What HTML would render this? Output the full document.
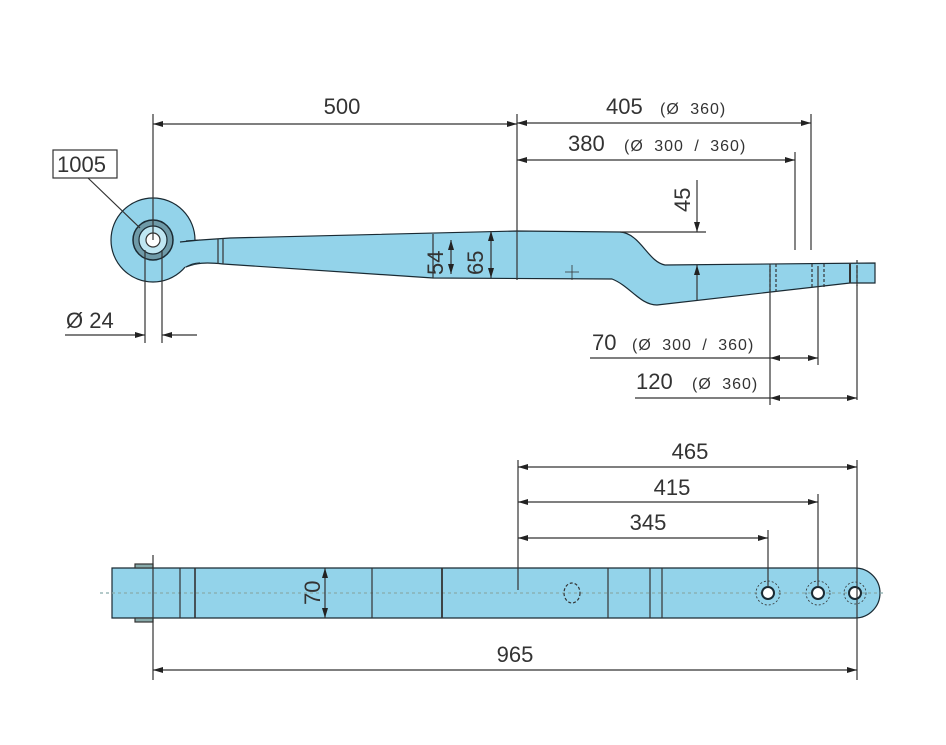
<!DOCTYPE html>
<html><head><meta charset="utf-8"><style>
html,body{margin:0;padding:0;background:#fff;}
svg{display:block;}
text{font-family:"Liberation Sans",Arial,sans-serif;fill:#333;}
.b{font-size:22px;}
.s{font-size:16px;letter-spacing:1px;word-spacing:5px;}
</style></head><body>
<svg width="946" height="745" viewBox="0 0 946 745" xmlns="http://www.w3.org/2000/svg">
<defs>
<marker id="a" viewBox="0 0 10 6" refX="10" refY="3" markerWidth="14" markerHeight="6" markerUnits="userSpaceOnUse" orient="auto-start-reverse"><path d="M0,0 L10,3 L0,6 z" fill="#222"/></marker>
</defs>
<g stroke="#333" stroke-width="1.2" fill="none">
<circle cx="153" cy="240" r="42" fill="#93d3ea" stroke="#1a2a33"/>
<path d="M186,241 L230,238 L517,231 L620,232 C640,233 648,262 665,265 L875,263 L875,283 L850,283 L657,305 C640,305 630,286 612,279 L433,278 L223,264 C205,262 196,263 186,267" fill="#93d3ea" stroke="#1a2a33"/>
<path d="M180,242 L200,240 L200,263 L180,268 Z" fill="#93d3ea" stroke="none"/>
<path d="M180,242 L200,240" stroke="#1a2a33"/>
<path d="M200,263 C194,263 190,265 186,267" stroke="#1a2a33"/>
<circle cx="153" cy="240" r="20" fill="#6f9aa8" stroke="#1a2a33" stroke-width="1.5"/>
<circle cx="153" cy="240" r="14" fill="#bfe6f2" stroke="#1a2a33"/>
<circle cx="153" cy="240" r="7" fill="#fff" stroke="#333"/>
<line x1="218" y1="239" x2="218" y2="264"/><line x1="223" y1="239" x2="223" y2="264"/>
<line x1="433" y1="234" x2="433" y2="278"/>
<line x1="770" y1="264" x2="770" y2="292" stroke-dasharray="3,2"/>
<line x1="776" y1="264" x2="776" y2="292" stroke-dasharray="3,2"/>
<line x1="812" y1="264" x2="812" y2="288" stroke-dasharray="3,2"/>
<line x1="824" y1="264" x2="824" y2="288" stroke-dasharray="3,2"/>
<line x1="850" y1="263" x2="850" y2="283" stroke-width="2"/>
<line x1="857" y1="260" x2="857" y2="286" stroke-dasharray="3,2"/>
<path d="M565,272 h14 M572,265 v15" stroke-width="0.8"/>
<line x1="153" y1="114" x2="153" y2="240"/>
<line x1="517" y1="114" x2="517" y2="280"/>
<line x1="811" y1="114" x2="811" y2="250"/>
<line x1="795" y1="152" x2="795" y2="250"/>
<line x1="620" y1="232" x2="706" y2="232"/>
<line x1="697" y1="180" x2="697" y2="232" marker-end="url(#a)"/>
<line x1="697" y1="300" x2="697" y2="265" marker-end="url(#a)"/>
<line x1="451" y1="240" x2="451" y2="274" marker-start="url(#a)" marker-end="url(#a)"/>
<line x1="491" y1="231" x2="491" y2="278" marker-start="url(#a)" marker-end="url(#a)"/>
<line x1="153" y1="124" x2="517" y2="124" marker-start="url(#a)" marker-end="url(#a)"/>
<line x1="517" y1="123" x2="811" y2="123" marker-start="url(#a)" marker-end="url(#a)"/>
<line x1="517" y1="160" x2="795" y2="160" marker-start="url(#a)" marker-end="url(#a)"/>
<rect x="53" y="150" width="64" height="28" fill="#fff"/>
<line x1="88" y1="178" x2="140" y2="228"/>
<line x1="145" y1="250" x2="145" y2="343"/>
<line x1="162" y1="250" x2="162" y2="343"/>
<line x1="65" y1="335" x2="145" y2="335" marker-end="url(#a)"/>
<line x1="197" y1="335" x2="162" y2="335" marker-end="url(#a)"/>
<line x1="770" y1="266" x2="770" y2="405"/>
<line x1="818" y1="266" x2="818" y2="365"/>
<line x1="857" y1="266" x2="857" y2="400"/>
<line x1="590" y1="358" x2="770" y2="358"/>
<line x1="770" y1="358" x2="818" y2="358" marker-start="url(#a)" marker-end="url(#a)"/>
<line x1="635" y1="398" x2="770" y2="398"/>
<line x1="770" y1="398" x2="857" y2="398" marker-start="url(#a)" marker-end="url(#a)"/>

<path d="M112,568 L855,568 A25,25 0 0 1 855,618 L112,618 Z" fill="#93d3ea" stroke="#1a2a33"/>
<line x1="100" y1="593" x2="885" y2="593" stroke="#8aa" stroke-dasharray="3,3"/>
<rect x="135" y="564" width="18" height="4" fill="#8aa"/>
<rect x="135" y="618" width="18" height="4" fill="#8aa"/>
<line x1="180" y1="568" x2="180" y2="618"/>
<line x1="195" y1="568" x2="195" y2="618" stroke-width="1.6"/>
<line x1="372" y1="568" x2="372" y2="618"/>
<line x1="442" y1="568" x2="442" y2="618" stroke-width="1.8"/>
<line x1="608" y1="568" x2="608" y2="618"/>
<line x1="650" y1="568" x2="650" y2="618"/>
<line x1="662" y1="568" x2="662" y2="618"/>
<ellipse cx="572" cy="593" rx="8" ry="10" stroke-dasharray="3,2"/>
<g fill="#fff" stroke="#1a2a33" stroke-width="2">
<circle cx="768" cy="593" r="6"/><circle cx="818" cy="593" r="6"/><circle cx="855" cy="593" r="6"/>
</g>
<g stroke-dasharray="2,2" stroke-width="0.8">
<circle cx="768" cy="593" r="12"/><circle cx="818" cy="593" r="12"/><circle cx="855" cy="593" r="11"/>
</g>
<line x1="325" y1="568" x2="325" y2="618" marker-start="url(#a)" marker-end="url(#a)"/>
<line x1="153" y1="555" x2="153" y2="680"/>
<line x1="857" y1="460" x2="857" y2="680"/>
<line x1="518" y1="460" x2="518" y2="590"/>
<line x1="818" y1="494" x2="818" y2="587"/>
<line x1="768" y1="530" x2="768" y2="587"/>
<line x1="518" y1="467" x2="857" y2="467" marker-start="url(#a)" marker-end="url(#a)"/>
<line x1="518" y1="502" x2="818" y2="502" marker-start="url(#a)" marker-end="url(#a)"/>
<line x1="518" y1="538" x2="768" y2="538" marker-start="url(#a)" marker-end="url(#a)"/>
<line x1="153" y1="670" x2="857" y2="670" marker-start="url(#a)" marker-end="url(#a)"/>
</g>
<text class="b" x="342" y="114" text-anchor="middle">500</text>
<text class="b" x="606" y="114">405</text><text class="s" x="660" y="114">(Ø 360)</text>
<text class="b" x="568" y="151">380</text><text class="s" x="624" y="151">(Ø 300 / 360)</text>
<text class="b" x="57" y="172">1005</text>
<text class="b" x="66" y="328">Ø 24</text>
<text class="b" transform="translate(690,212) rotate(-90)">45</text>
<text class="b" transform="translate(443,275) rotate(-90)">54</text>
<text class="b" transform="translate(483,275) rotate(-90)">65</text>
<text class="b" x="592" y="350">70</text><text class="s" x="632" y="350">(Ø 300 / 360)</text>
<text class="b" x="636" y="389">120</text><text class="s" x="692" y="389">(Ø 360)</text>
<text class="b" x="690" y="459" text-anchor="middle">465</text>
<text class="b" x="672" y="495" text-anchor="middle">415</text>
<text class="b" x="648" y="530" text-anchor="middle">345</text>
<text class="b" x="515" y="662" text-anchor="middle">965</text>
<text class="b" transform="translate(320,605) rotate(-90)">70</text>
</svg>
</body></html>
